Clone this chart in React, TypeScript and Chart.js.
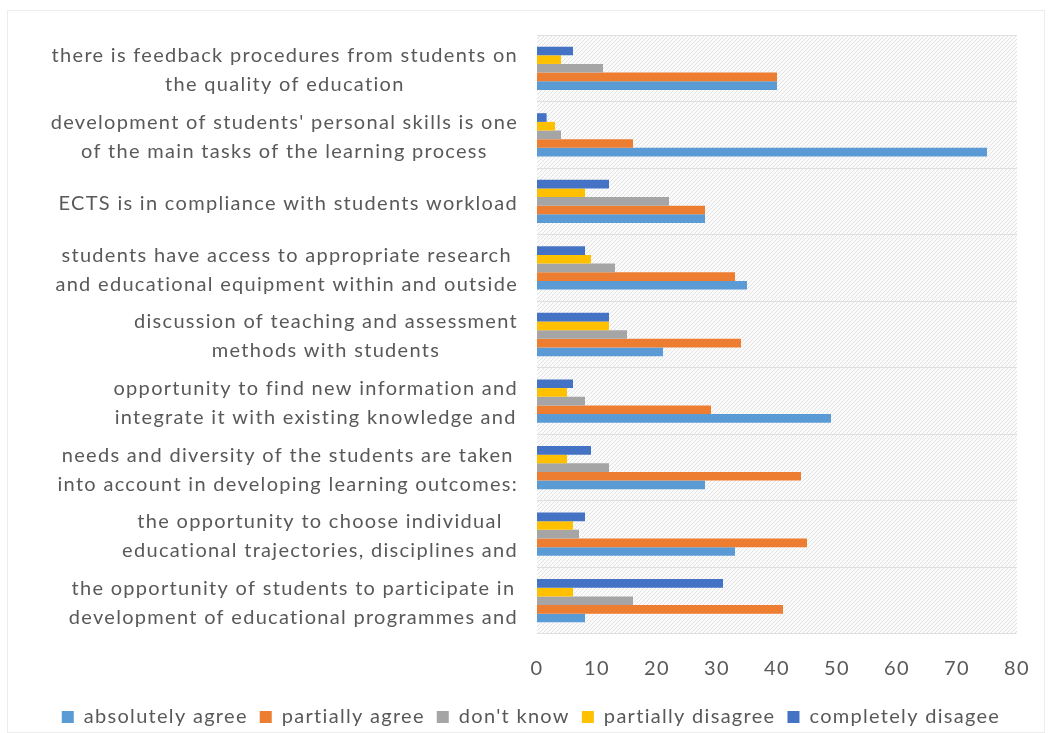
import React, { useEffect, useRef } from "react";
import { Chart, registerables } from "chart.js";

Chart.register(...registerables);

const categories: string[][] = [
  ["there is feedback procedures from students on", "the quality of education"],
  ["development of students' personal skills is one", "of the main tasks of the learning process"],
  ["ECTS is in compliance with students workload"],
  ["students have access to appropriate research", "and educational equipment within and outside"],
  ["discussion of teaching and assessment", "methods with students"],
  ["opportunity to find new information and", "integrate it with existing knowledge and"],
  ["needs and diversity of the students are taken", "into account in developing learning outcomes:"],
  ["the opportunity to choose individual", "educational trajectories, disciplines and"],
  ["the opportunity of students to participate in", "development of educational programmes and"],
];

const absolutelyAgree = [40, 75, 28, 35, 21, 49, 28, 33, 8];
const partiallyAgree = [40, 16, 28, 33, 34, 29, 44, 45, 41];
const dontKnow = [11, 4, 22, 13, 15, 8, 12, 7, 16];
const partiallyDisagree = [4, 3, 8, 9, 12, 5, 5, 6, 6];
const completelyDisagree = [6, 1.6, 12, 8, 12, 6, 9, 8, 31];

const seriesNames = ["absolutely agree", "partially agree", "don't know", "partially disagree", "completely disagee"];
const seriesColors = ["#5B9BD5", "#ED7D31", "#A5A5A5", "#FFC000", "#4472C4"];

const xMin = 0;
const xMax = 80;
const xStep = 10;

const FONT = "Lato, 'Open Sans', sans-serif";
const TEXT = "#595959";
const SPACING = "1.3px";

function makePattern(): CanvasPattern | string {
  const c = document.createElement("canvas");
  c.width = 4;
  c.height = 4;
  const g = c.getContext("2d");
  if (!g) return "#f4f4f4";
  g.fillStyle = "#fbfbfb";
  g.fillRect(0, 0, 4, 4);
  g.fillStyle = "#e2e2e2";
  for (let i = 0; i < 4; i++) g.fillRect(i, 3 - i, 1, 1);
  const p = g.createPattern(c, "repeat");
  return p || "#f4f4f4";
}

export default function App() {
  const ref = useRef<HTMLCanvasElement | null>(null);

  useEffect(() => {
    document.body.style.margin = "0";
    const canvas = ref.current;
    if (!canvas) return;
    const pattern = makePattern();

    const decorPlugin = {
      id: "decor",
      beforeInit(chart: any) {
        chart.ctx.letterSpacing = SPACING;
      },
      beforeUpdate(chart: any) {
        chart.ctx.letterSpacing = SPACING;
      },
      beforeLayout(chart: any) {
        chart.ctx.letterSpacing = SPACING;
      },
      beforeDraw(chart: any) {
        const ctx = chart.ctx;
        ctx.letterSpacing = SPACING;
        ctx.save();
        ctx.fillStyle = "#ffffff";
        ctx.fillRect(0, 0, chart.width, chart.height);
        ctx.strokeStyle = "#ececec";
        ctx.lineWidth = 1;
        ctx.strokeRect(7.5, 10.5, 1037, 722);
        const { left, top, right, bottom } = chart.chartArea;
        ctx.fillStyle = pattern;
        ctx.fillRect(left, top, right - left, bottom - top);
        ctx.restore();
      },
      afterDraw(chart: any) {
        const ctx = chart.ctx;
        const yScale = chart.scales.y;
        const xScale = chart.scales.x;
        ctx.save();
        ctx.letterSpacing = SPACING;
        ctx.font = `20px ${FONT}`;
        ctx.fillStyle = TEXT;
        ctx.textAlign = "center";
        ctx.textBaseline = "middle";
        categories.forEach((lines, i) => {
          const cy = yScale.getPixelForValue(i) + 2;
          const maxW = Math.max(...lines.map((l) => ctx.measureText(l).width));
          const cx = xScale.left - 19 - maxW / 2;
          lines.forEach((l, j) => {
            ctx.fillText(l, cx, cy + (j - (lines.length - 1) / 2) * 29);
          });
        });
        ctx.restore();
      },
    };

    const order = [4, 3, 2, 1, 0];
    const seriesData = [absolutelyAgree, partiallyAgree, dontKnow, partiallyDisagree, completelyDisagree];

    const chart = new Chart(canvas, {
      type: "bar",
      data: {
        labels: categories.map((c) => c.join(" ")),
        datasets: order.map((k) => ({
          label: seriesNames[k],
          data: seriesData[k],
          backgroundColor: seriesColors[k],
          borderWidth: 0,
          categoryPercentage: 0.65,
          barPercentage: 1.0,
        })),
      },
      options: {
        indexAxis: "y",
        responsive: true,
        maintainAspectRatio: false,
        animation: false,
        layout: { padding: { top: 35, right: 33, left: 45, bottom: -4 } },
        scales: {
          x: {
            min: xMin,
            max: xMax,
            ticks: {
              stepSize: xStep,
              color: TEXT,
              font: { family: FONT, size: 20 },
              padding: 15,
            },
            grid: { display: false },
            border: { display: false },
            afterFit(scale: any) {
              scale.height = 61;
            },
          },
          y: {
            type: "category",
            ticks: { display: false },
            grid: { color: "#e0e0e0", drawTicks: false, offset: true },
            border: { display: false },
            afterFit(scale: any) {
              scale.width = 492;
            },
          },
        },
        plugins: {
          tooltip: { enabled: false },
          legend: {
            position: "bottom",
            labels: {
              color: TEXT,
              font: { family: FONT, size: 20 },
              boxWidth: 12,
              boxHeight: 12,
              padding: 12,
              sort: (a: any, b: any) => b.datasetIndex - a.datasetIndex,
            },
          },
        },
      },
      plugins: [decorPlugin],
    });

    return () => chart.destroy();
  }, []);

  return (
    <div style={{ width: 1050, height: 733, position: "relative" }}>
      <canvas ref={ref} />
    </div>
  );
}
